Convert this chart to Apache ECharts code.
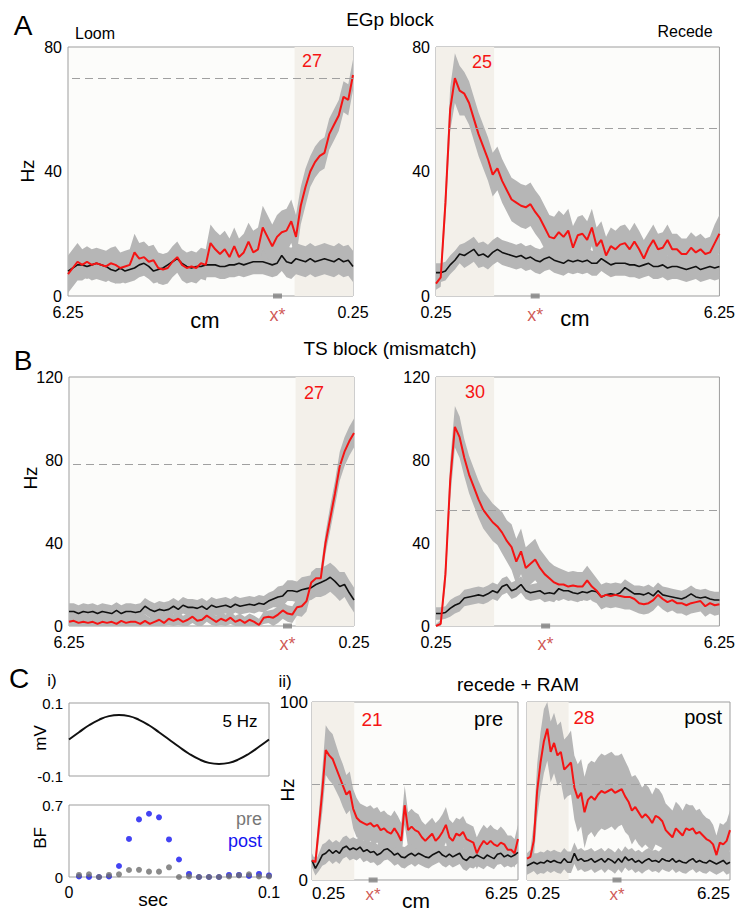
<!DOCTYPE html>
<html><head><meta charset="utf-8">
<script src="https://cdn.jsdelivr.net/npm/echarts@6/dist/echarts.min.js"></script>
<style>html,body{margin:0;padding:0;background:#fff}#c{width:738px;height:910px}</style>
</head><body><div id="c"></div>
<script>
// ---------------- data ----------------
const cmGrid = [0.25,0.35,0.45,0.55,0.65,0.75,0.85,0.95,1.05,1.15,1.25,1.35,1.45,1.55,1.65,1.75,1.85,1.95,2.05,2.15,2.25,2.35,2.45,2.55,2.65,2.75,2.85,2.95,3.05,3.15,3.25,3.35,3.45,3.55,3.65,3.75,3.85,3.95,4.05,4.15,4.25,4.35,4.45,4.55,4.65,4.75,4.85,4.95,5.05,5.15,5.25,5.35,5.45,5.55,5.65,5.75,5.85,5.95,6.05,6.15,6.25];
const cmTickValues = [0.25, 6.25];
const cmTickLabels = ['0.25', '6.25'];
const xStarText = 'x*';
const egpTicks = [0, 40, 80];
const tsTicks = [0, 40, 80, 120];
const ramTicks = [0, 100];
const shadeRange = [0.25, 1.48];
const xStarPos = [1.84, 2.35, 1.65, 2.57, 2.03, 2.91];
const dashedLevels = [70, 54, 78, 56, 54, 54];
const peakLabels = ['27', '25', '27', '30', '21', '28'];

// EGp block, loom (listed from 6.25 cm to 0.25 cm)
const egpLoomRed = [7,9,11,10,11,10,10.5,10,9.5,10.5, 10,9,9.5,10,14,12,12.5,11,11.5,9, 8.5,9,11,12.5,10,9,9.5,9,10.5,10, 17,15,13.5,15,12.5,16,12.5,14,17.5,14, 15,22,19,16,19,20.5,21,24,19,29, 35,40,43,45,46,52,55,58,64,63, 71];
const egpLoomRedSem = [6,6,6,5,5,5,5,5,5,5, 6,5,5,5,6,5,5,5,5,5, 5,5,5,5,5,5,5,5,5,5, 6,6,6,6,6,6,6,6,6,7, 7,7,7,7,7,7,7,7,7,6, 6,5,5,5,5,5,5,5,5,5, 5];
const egpLoomBlack = [8,9,10,10,9.5,10,10.5,10,9.5,8.5, 8,9,8,8.5,9,10,10.5,9.5,8,8.5, 9,10,11,12,10.5,9.5,9,9.5,9.5,10, 10,10,9.5,9.5,10,10,10.5,10,10.5,11, 11,11,10.5,10,10.5,13,11,10.5,12,11.5, 11,12,11,11.5,12,11.5,11,12,11,11.5, 9.5];
const egpLoomBlackSem = [4,4,4,4,4,4,4,4,4,4, 4,4,4,4,4,4,4,4,4,4, 4,4,4,4,4,4,4,4,4,4, 4,4,4,4,4,4,4,4,4,4, 4,4,4,4,4,5,5,5,5,5, 5,5,5,5,5,5,5,5,5,5, 5];
// EGp block, recede (0.25 cm to 6.25 cm)
const egpRecRed = [4,6,30,60,70,66,65,62,57,52, 48,44,39,41,37,34,31,30,29,28.5, 29.5,27,25,22,19,18.5,20.5,19,21,15.5, 19.5,20,18,22,16,18,13,16,15,16.5, 17,15,17.5,15,12,15.5,18,15,15.5,18, 15,15,13.5,13.5,15.5,14,15,13.5,14,17, 20];
const egpRecRedSem = [2,3,5,7,8,8,7,7,7,7, 7,7,7,7,7,7,7,7,7,7, 7,7,7,7,7,7,7,7,7,7, 6,6,6,6,6,6,6,6,6,6, 6,6,6,6,6,5,5,5,5,5, 5,5,5,5,5,5,5,5,5,6, 6];
const egpRecBlack = [7.5,7.5,8,10,11.5,13.5,13,14,15,13, 13.5,12.5,14,15,14,13.5,13,12.5,13,12, 12.5,11.5,11,12,12.5,11.5,11,10.5,11.5,11, 11.5,11,11.5,10.5,10.5,12,11,10,10.5,10.5, 10.5,10,10,9.5,10,10.5,9.5,9.5,10,9, 9.5,9.5,9,8.5,9,9.5,8.5,9,9.5,9, 9.5];
const egpRecBlackSem = [3,3,3,3,3,3,4,4,4,4, 4,4,4,4,4,4,4,4,4,4, 4,4,4,4,4,4,4,4,4,4, 4,4,4,4,4,4,4,4,4,4, 4,4,4,4,4,4,4,4,4,4, 4,4,4,4,4,4,4,4,4,4, 4];
// TS block, loom (6.25 -> 0.25)
const tsLoomRed = [2,2.5,1.5,2,1.5,2,1,2,1.5,2, 1,2.5,1.5,2,2,1,2.5,1,2,3, 1.5,3.5,2.5,3.5,2,3,4.5,2.5,3,5, 3.5,2,3.5,2.5,4,2,3,1.5,3,2, 0.5,4,4.5,4,5.5,7.5,6,5.5,9,9.5, 12,21,23,23,40,52,64,77,84,89, 93];
const tsLoomRedSem = [3,3,3,3,3,3,3,3,3,3, 3,3,3,3,3,3,3,3,3,3, 3,3,3,3,3,3,3,3,3,3, 3,3,3,3,3,3,3,3,3,3, 3,3,3,4,4,4,4,4,4,5, 5,5,5,5,5,6,6,7,7,7, 7];
const tsLoomBlack = [7,7,6,7,6.5,7,6,7,6.5,6, 7.5,6,7,7,6.5,7,9.5,8,7,8, 7.5,8,9.5,8,10,9,9,8.5,9.5,8, 10,9,9.5,10,9,10.5,9.5,10,10.5,10, 11,10.5,12,13,14,14.5,17,17,16.5,17.5, 18,18.5,20,21,22,23.5,21.5,19,20,16, 12.5];
const tsLoomBlackSem = [4,4,4,4,4,4,4,4,4,4, 4,4,4,4,4,4,4,4,4,4, 4,4,4,4,4,4,4,4,4,4, 4,4,4,4,4,4,4,4,4,4, 4,4,4,4,5,5,5,5,5,6, 6,6,6,7,7,7,7,7,6,6, 6];
// TS block, recede (0.25 -> 6.25)
const tsRecRed = [0,1,25,70,96,91,81,73,67,61, 56,53,50,48,45,41,38,31,36,28, 30,32,28,25,23,21,20,20,19,19.5, 19,19,22,19,17,14,15,14.5,15,14.5, 14,14,13,11,10.5,11,12.5,15,13,11.5, 12.5,11,11,10,11,11.5,12,9.5,11,10, 10.5];
const tsRecRedSem = [1,2,6,9,10,10,9,9,9,9, 9,9,9,9,10,10,11,11,11,10, 10,10,9,9,8,8,8,7,7,7, 7,7,7,7,6,6,6,6,6,6, 6,6,6,5,5,5,5,5,5,5, 5,5,5,5,5,5,5,5,5,5, 5];
const tsRecBlack = [6,6,6.5,8.5,10,11,13.5,14,14.5,15, 14.5,15.5,17,16,19,20,17,18,20,17, 16,16.5,17,15.5,16,15.5,18,17,17,16, 15.5,16.5,16,17,16.5,14,15,15.5,15,16, 18.5,17,15.5,15.5,15,16,14.5,17,15,14.5, 14,13.5,13,14,15.5,14,13.5,14,13,12.5, 12.5];
const tsRecBlackSem = [3,3,3,4,4,4,4,4,4,4, 4,4,4,4,4,4,4,4,4,4, 4,4,4,4,4,4,4,4,4,4, 4,4,4,4,4,4,4,4,4,4, 4,4,4,4,4,4,4,4,4,4, 4,4,4,4,4,4,4,4,4,4, 4];
// recede + RAM, pre (0.25 -> 6.25)
const ramPreRed = [11,10,30,50,73,70,68,63,58,53, 48,50,40,35,33,32,31,32,30,31, 28,29,27,26,29,26,22,42,28,30, 28,27,24,22,24,26,22,24,27,31, 24,22,26,25,27,23,22,21,15,19, 22,20,22,20,19,21,20,17,17,15, 23];
const ramPreRedSem = [2,3,8,12,14,14,14,13,12,12, 11,11,11,11,10,10,10,10,10,10, 10,10,10,10,10,10,10,11,10,10, 10,10,9,9,9,9,10,10,10,10, 10,10,9,9,9,9,9,9,9,9, 9,9,9,9,9,9,8,8,8,8, 8];
const ramPreBlack = [11,6.5,10,14,15,17,15,16.5,15,18, 19,17,18,17,18.5,16,17,15.5,16,14, 15,17,17.5,16,14,15,13,12.5,14,15, 13.5,15,14,13,12.5,14,15,16,14,13, 14.5,13,14,15,12,11,13,12.5,14,13, 12,14,13,12,14.5,15,13,14,13,14, 15.5];
const ramPreBlackSem = [4,4,5,6,6,6,6,6,6,6, 6,6,6,6,6,6,6,6,6,6, 6,6,6,6,6,6,6,6,6,6, 6,6,6,6,6,6,6,6,6,6, 6,6,6,6,6,6,6,6,6,6, 6,6,6,6,6,6,6,6,6,6, 6];
// recede + RAM, post (0.25 -> 6.25)
const ramPostRed = [12,13,22,50,66,78,85,72,77,70, 72,62,64,66,52,46,49,38,45,47, 45,48,50,49,50,51,49,50,51,47, 44,39,41,38,35,37,35,32,36,35, 33,28,26,24,29,27,25,29,28,29, 26,27,25,23,22,20,14,21,20,22, 28];
const ramPostRedSem = [3,4,10,15,17,18,18,17,17,17, 17,17,17,18,18,19,19,20,20,20, 21,21,21,21,21,21,21,20,20,20, 19,19,18,18,17,17,17,16,16,16, 15,15,15,15,15,15,14,14,14,13, 13,13,12,12,12,11,11,11,11,11, 11];
const ramPostBlack = [8,9,10,9,10,9.5,11,10,11,10, 9.5,12,10,10,15,11,12,10.5,11,12, 10,11,12,10,12,11,9.5,12,10,13, 11,12,10,11,9.5,11,12,10.5,11,10, 12,11,10.5,12,10,11,10,9.5,11,12, 10,11,10,9.5,11,10,9,10,11,9, 10];
const ramPostBlackSem = [5,5,5,6,6,6,6,6,6,6, 6,6,6,6,6,6,6,6,6,6, 6,6,6,6,6,6,6,6,6,6, 6,6,6,6,6,6,6,6,6,6, 6,6,6,6,6,6,6,6,6,6, 6,6,6,6,6,6,6,6,6,6, 6];

// panel C i)
const secGrid = [0,0.005,0.01,0.015,0.02,0.025,0.03,0.035,0.04,0.045,0.05,0.055,0.06,0.065,0.07,0.075,0.08,0.085,0.09,0.095,0.1];
const sineMv = [0,0.02,0.039,0.054,0.064,0.067,0.064,0.054,0.039,0.02,0,-0.02,-0.039,-0.054,-0.064,-0.067,-0.064,-0.054,-0.039,-0.02,0];
const mvTicks = [-0.1, 0.1];
const bfSec = [0.005,0.01,0.015,0.02,0.025,0.03,0.035,0.04,0.045,0.05,0.055,0.06,0.065,0.07,0.075,0.08,0.085,0.09,0.095,0.1];
const bfPre = [0.02,0.026,0,0.02,0.026,0.068,0.07,0.052,0.052,0.094,0,0.006,0,0,0,0.006,0.016,0.026,0.006,0.006];
const bfPost = [0.005,0,0,0.005,0.107,0.37,0.56,0.615,0.58,0.365,0.17,0.03,0,0,0,0.02,0.02,0.01,0.03,0.015];
const bfTicks = [0, 0.7];
const secTicks = [0, 0.1];

// ---------------- styling ----------------
const FONT = 'Arial, "Liberation Sans", sans-serif';
const RED = '#f51414';
const XRED = '#c4302b';
const BAND = '#b6b6b6';
const SHADE = '#f3f0ea';
const PLOTBG = '#fcfcfa';
const BORDER = '#9d9d9d';

const cmDesc = cmGrid.slice().reverse();

const grids = [], xAxes = [], yAxes = [], series = [];

function lbl(vals, labels) {
  return v => { for (let i = 0; i < vals.length; i++) if (Math.abs(vals[i] - v) < 1e-9) return labels[i]; return ''; };
}

function bandSeries(gi, xs, m, s, yMax) {
  const hi = xs.map((x, i) => [x, Math.min(yMax, m[i] + s[i])]);
  const lo = xs.map((x, i) => [x, Math.max(0, m[i] - s[i])]);
  return {
    type: 'custom', xAxisIndex: gi, yAxisIndex: gi, z: 2, silent: true,
    data: xs.map((x, i) => [x, m[i]]),
    renderItem(params, api) {
      if (params.dataIndex !== 0) return null;
      const pts = hi.map(p => api.coord(p)).concat(lo.slice().reverse().map(p => api.coord(p)));
      return { type: 'polygon', shape: { points: pts }, style: { fill: BAND } };
    }
  };
}

function addTracePanel(p, k) {
  const gi = grids.length;
  grids.push({ left: p.box[0], top: p.box[1], width: p.box[2], height: p.box[3], show: true,
    backgroundColor: PLOTBG, borderColor: BORDER, borderWidth: 1 });
  const xLabel = { customValues: cmTickValues, formatter: lbl(cmTickValues, cmTickLabels),
      fontSize: p.xfs, margin: p.xm, color: '#000', fontFamily: FONT };
  if (p.inside) { xLabel.alignMinLabel = 'left'; xLabel.alignMaxLabel = 'right'; }
  xAxes.push({ type: 'value', gridIndex: gi, min: 0.25, max: 6.25, inverse: p.inverse,
    axisLine: { show: false }, axisTick: { show: false }, splitLine: { show: false },
    axisLabel: xLabel });
  yAxes.push({ type: 'value', gridIndex: gi, min: 0, max: p.ticks[p.ticks.length - 1],
    axisLine: { show: false }, axisTick: { show: false }, splitLine: { show: false },
    axisLabel: { show: p.showY, customValues: p.ticks, formatter: v => String(v),
      fontSize: p.yfs, margin: p.ym, color: '#000', fontFamily: FONT } });
  const xs = p.inverse ? cmDesc : cmGrid;
  const yMax = p.ticks[p.ticks.length - 1];
  series.push({ type: 'line', xAxisIndex: gi, yAxisIndex: gi, z: 1, silent: true,
    data: [[xs[0], 0]], symbol: 'none', lineStyle: { opacity: 0 },
    markArea: { silent: true, itemStyle: { color: SHADE }, label: { show: false }, data: [[{ xAxis: shadeRange[0] }, { xAxis: shadeRange[1] }]] },
    markLine: { silent: true, symbol: ['none', 'none'], label: { show: false },
      lineStyle: { color: '#a0a0a0', type: [8, 5], width: 1 }, data: [{ yAxis: dashedLevels[k] }] } });
  series.push(bandSeries(gi, xs, p.black, p.blackSem, yMax));
  series.push(bandSeries(gi, xs, p.red, p.redSem, yMax));
  series.push({ type: 'line', xAxisIndex: gi, yAxisIndex: gi, z: 3, silent: true, symbol: 'none',
    data: xs.map((x, i) => [x, p.black[i]]), lineStyle: { color: '#111', width: 1.6 } });
  series.push({ type: 'line', xAxisIndex: gi, yAxisIndex: gi, z: 4, silent: true, symbol: 'none',
    data: xs.map((x, i) => [x, p.red[i]]), lineStyle: { color: RED, width: 2 } });
  series.push({ type: 'scatter', xAxisIndex: gi, yAxisIndex: gi, z: 6, silent: true, clip: false,
    data: [[xStarPos[k], 0]], symbol: 'rect', symbolSize: [9, 5], itemStyle: { color: '#7f7f7f' },
    label: { show: true, formatter: xStarText, position: 'bottom', distance: p.xsd, color: XRED,
      fontSize: p.xsfs, fontFamily: FONT } });
}

const panels = [
  { box: [68, 47, 285, 249], inverse: true, red: egpLoomRed, redSem: egpLoomRedSem, black: egpLoomBlack, blackSem: egpLoomBlackSem, ticks: egpTicks, showY: true, xfs: 16, xm: 8, yfs: 16, ym: 6, xsd: 7, xsfs: 18 },
  { box: [436, 47, 286, 249], inverse: false, red: egpRecRed, redSem: egpRecRedSem, black: egpRecBlack, blackSem: egpRecBlackSem, ticks: egpTicks, showY: true, xfs: 16, xm: 8, yfs: 16, ym: 6, xsd: 7, xsfs: 18 },
  { box: [69, 377, 285, 249], inverse: true, red: tsLoomRed, redSem: tsLoomRedSem, black: tsLoomBlack, blackSem: tsLoomBlackSem, ticks: tsTicks, showY: true, xfs: 16, xm: 8, yfs: 16, ym: 6, xsd: 6, xsfs: 18 },
  { box: [436, 377, 286, 249], inverse: false, red: tsRecRed, redSem: tsRecRedSem, black: tsRecBlack, blackSem: tsRecBlackSem, ticks: tsTicks, showY: true, xfs: 16, xm: 8, yfs: 16, ym: 6, xsd: 6, xsfs: 18 },
  { box: [312, 702, 206, 178], inverse: false, inside: true, red: ramPreRed, redSem: ramPreRedSem, black: ramPreBlack, blackSem: ramPreBlackSem, ticks: ramTicks, showY: true, xfs: 17, xm: 5, yfs: 17, ym: 4, xsd: 3, xsfs: 17 },
  { box: [527, 702, 203, 178], inverse: false, inside: true, red: ramPostRed, redSem: ramPostRedSem, black: ramPostBlack, blackSem: ramPostBlackSem, ticks: ramTicks, showY: false, xfs: 17, xm: 5, yfs: 17, ym: 4, xsd: 3, xsfs: 17 }
];
panels.forEach(addTracePanel);

// C i) sine
(function () {
  const gi = grids.length;
  grids.push({ left: 69, top: 703, width: 200, height: 73, show: true, backgroundColor: '#fff', borderColor: BORDER, borderWidth: 1 });
  xAxes.push({ type: 'value', gridIndex: gi, min: 0, max: 0.1, axisLine: { show: false }, axisTick: { show: false }, splitLine: { show: false }, axisLabel: { show: false } });
  yAxes.push({ type: 'value', gridIndex: gi, min: -0.1, max: 0.1, axisLine: { show: false }, axisTick: { show: false }, splitLine: { show: false },
    axisLabel: { customValues: mvTicks, formatter: v => String(v), fontSize: 15, margin: 6, color: '#000', fontFamily: FONT } });
  series.push({ type: 'line', xAxisIndex: gi, yAxisIndex: gi, symbol: 'none', smooth: true, silent: true,
    data: secGrid.map((x, i) => [x, sineMv[i]]), lineStyle: { color: '#111', width: 2 } });
})();
// C i) BF
(function () {
  const gi = grids.length;
  grids.push({ left: 69, top: 805, width: 200, height: 72, show: true, backgroundColor: '#fff', borderColor: BORDER, borderWidth: 1 });
  xAxes.push({ type: 'value', gridIndex: gi, min: 0, max: 0.1, axisLine: { show: false }, axisTick: { show: false }, splitLine: { show: false },
    axisLabel: { customValues: secTicks, formatter: v => String(v), fontSize: 16, margin: 7, color: '#000', fontFamily: FONT } });
  yAxes.push({ type: 'value', gridIndex: gi, min: 0, max: 0.7, axisLine: { show: false }, axisTick: { show: false }, splitLine: { show: false },
    axisLabel: { customValues: bfTicks, formatter: v => String(v), fontSize: 15, margin: 6, color: '#000', fontFamily: FONT } });
  series.push({ type: 'scatter', xAxisIndex: gi, yAxisIndex: gi, clip: false, silent: true, symbolSize: 6, z: 3,
    data: bfSec.map((x, i) => [x, bfPost[i]]), itemStyle: { color: '#1414f0' } });
  series.push({ type: 'scatter', xAxisIndex: gi, yAxisIndex: gi, clip: false, silent: true, symbolSize: 6, z: 4,
    data: bfSec.map((x, i) => [x, bfPre[i]]), itemStyle: { color: '#6e6e6e' } });
})();

// ---------------- free text ----------------
const texts = [
  { t: 'A', x: 23, y: 25, s: 28 },
  { t: 'Loom', x: 95, y: 33, s: 16 },
  { t: 'EGp block', x: 390, y: 19, s: 19 },
  { t: 'Recede', x: 685, y: 31, s: 16 },
  { t: 'Hz', x: 27, y: 171, s: 19, r: true },
  { t: 'cm', x: 205, y: 320, s: 22 },
  { t: 'cm', x: 575, y: 318, s: 22 },
  { t: peakLabels[0], x: 312, y: 61, s: 18, c: RED },
  { t: peakLabels[1], x: 482, y: 62, s: 18, c: RED },
  { t: 'B', x: 23, y: 360, s: 28 },
  { t: 'TS block (mismatch)', x: 390, y: 348, s: 19 },
  { t: 'Hz', x: 30, y: 478, s: 19, r: true },
  { t: peakLabels[2], x: 314, y: 393, s: 18, c: RED },
  { t: peakLabels[3], x: 475, y: 392, s: 18, c: RED },
  { t: 'C', x: 19, y: 678, s: 28 },
  { t: 'i)', x: 52, y: 680, s: 17 },
  { t: 'ii)', x: 285, y: 681, s: 17 },
  { t: 'mV', x: 40, y: 738, s: 17, r: true },
  { t: '5 Hz', x: 240, y: 721, s: 17 },
  { t: 'BF', x: 40, y: 838, s: 17, r: true },
  { t: 'pre', x: 262, y: 819, s: 18, c: '#777', a: 'right' },
  { t: 'post', x: 262, y: 841, s: 18, c: '#1414f0', a: 'right' },
  { t: 'sec', x: 153, y: 899, s: 19 },
  { t: 'recede + RAM', x: 518, y: 684, s: 19 },
  { t: 'Hz', x: 287, y: 790, s: 19, r: true },
  { t: peakLabels[4], x: 372, y: 719, s: 19, c: RED },
  { t: 'pre', x: 503, y: 719, s: 20, a: 'right' },
  { t: peakLabels[5], x: 584, y: 717, s: 19, c: RED },
  { t: 'post', x: 722, y: 717, s: 20, a: 'right' },
  { t: 'cm', x: 416, y: 900, s: 21 }
];

const chart = echarts.init(document.getElementById('c'), null, { renderer: 'svg', width: 738, height: 910 });
chart.setOption({
  animation: false,
  backgroundColor: '#fff',
  grid: grids, xAxis: xAxes, yAxis: yAxes, series: series,
  graphic: { elements: texts.map(o => ({
    type: 'text', x: o.x, y: o.y, z: 100, zlevel: 0, rotation: o.r ? Math.PI / 2 : 0, silent: true,
    style: { text: o.t, fill: o.c || '#000', fontSize: o.s, fontFamily: FONT,
      align: o.a || 'center', verticalAlign: 'middle' }
  })) }
});
</script></body></html>
